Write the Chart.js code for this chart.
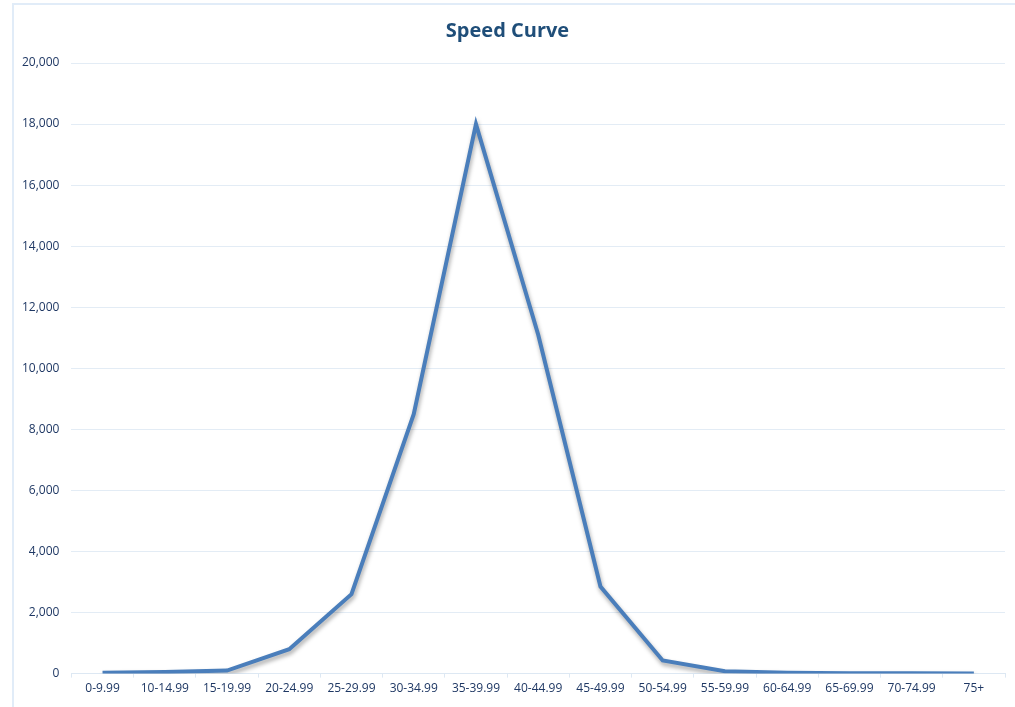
<!DOCTYPE html>
<html>
<head>
<meta charset="utf-8">
<script src="https://cdn.jsdelivr.net/npm/chart.js@4"></script>
<style>
  html, body { margin: 0; padding: 0; background: #fff; overflow: hidden; }
  #frame { position: absolute; left: 12px; top: 3px; width: 1015px; height: 720px;
           border: 2px solid #e1ecf8; box-sizing: border-box; }
  #wrap { position: absolute; left: 0; top: 0; width: 1015px; height: 707px; }
</style>
</head>
<body>
<div id="frame"></div>
<div id="wrap"><canvas id="speedChart"></canvas></div>
<script>
const speedBins = ['0-9.99', '10-14.99', '15-19.99', '20-24.99', '25-29.99', '30-34.99', '35-39.99', '40-44.99',
  '45-49.99', '50-54.99', '55-59.99', '60-64.99', '65-69.99', '70-74.99', '75+'];
const counts = [30, 50, 100, 800, 2600, 8500, 18000, 11100, 2850, 430, 80, 30, 15, 10, 5];
const yTicks = { min: 0, max: 20000, step: 2000 };

const FONT = "'Open Sans', 'Liberation Sans', sans-serif";

// soft drop shadow under the line, like the office chart
const lineShadow = {
  id: 'lineShadow',
  beforeDatasetDraw(chart) {
    const c = chart.ctx;
    c.save();
    c.shadowColor = 'rgba(0,0,0,0.35)';
    c.shadowBlur = 4;
    c.shadowOffsetX = 1;
    c.shadowOffsetY = 3;
  },
  afterDatasetDraw(chart) {
    chart.ctx.restore();
  }
};

const ctxSpeed = document.getElementById('speedChart');
new Chart(ctxSpeed, {
  type: 'line',
  data: {
    labels: speedBins,
    datasets: [{
      label: 'Speed',
      data: counts,
      borderColor: '#4a7ebb',
      borderWidth: 4,
      pointRadius: 0,
      tension: 0,
      fill: false
    }]
  },
  options: {
    responsive: true,
    maintainAspectRatio: false,
    animation: false,
    layout: { padding: { top: 8, right: 10, left: 10, bottom: 7 } },
    plugins: {
      legend: { display: false },
      tooltip: { enabled: false },
      title: {
        display: true,
        text: 'Speed Curve',
        color: '#1f4e79',
        font: { family: FONT, size: 20, weight: 'bold' },
        padding: { top: 11, bottom: 20 }
      }
    },
    scales: {
      x: {
        offset: true,
        grid: { display: true, drawOnChartArea: false, color: '#dde8f3', tickLength: 4, offset: true },
        border: { color: '#dde8f3', width: 1 },
        ticks: { color: '#1f3864', font: { family: FONT, size: 12 }, maxRotation: 0, autoSkip: false, padding: 4 }
      },
      y: {
        min: yTicks.min,
        max: yTicks.max,
        grid: { color: '#e3ecf5', drawTicks: false },
        border: { display: false },
        ticks: {
          stepSize: yTicks.step,
          color: '#1f3864',
          padding: 12,
          font: { family: FONT, size: 12 },
          callback: v => v.toLocaleString('en-US')
        }
      }
    }
  },
  plugins: [lineShadow]
});
</script>
</body>
</html>
